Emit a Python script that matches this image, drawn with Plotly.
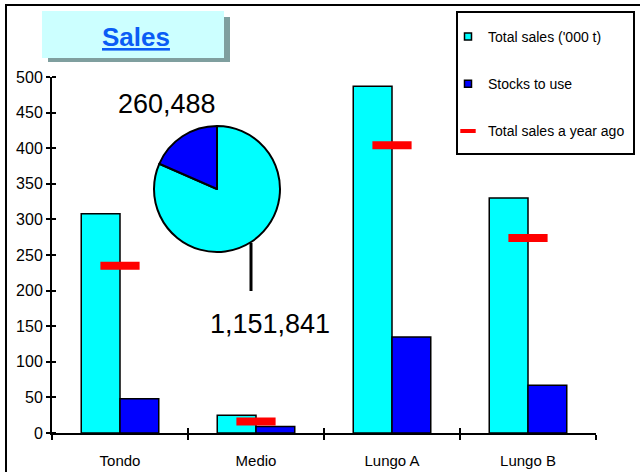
import plotly.graph_objects as go

categories = ["Tondo", "Medio", "Lungo A", "Lungo B"]
total_sales = [308, 25, 487, 330]
stocks_to_use = [48, 9, 135, 67]
sales_year_ago = [235, 16, 404, 274]
pie_labels = ["Other", "Stocks"]
pie_values = [1151841, 260488]
y_ticks = [0, 50, 100, 150, 200, 250, 300, 350, 400, 450, 500]
series_names = ["Total sales ('000 t)", "Stocks to use", "Total sales a year ago"]

W, H = 640, 472
L, R, T, B = 52, 44, 77, 39
PW, PH = W - L - R, H - T - B

def px(x):
    return (x - L) / PW

def py(y):
    return (H - B - y) / PH

font = "Liberation Sans, Arial, sans-serif"
CYAN, BLUE, RED = "#00ffff", "#0000ff", "#ff0000"

fig = go.Figure()
fig.add_trace(go.Bar(x=categories, y=total_sales, name=series_names[0],
                     marker=dict(color=CYAN, line=dict(color="black", width=1.5)),
                     showlegend=False))
fig.add_trace(go.Bar(x=categories, y=stocks_to_use, name=series_names[1],
                     marker=dict(color=BLUE, line=dict(color="black", width=1.5)),
                     showlegend=False))
fig.add_trace(go.Scatter(x=categories, y=sales_year_ago, name=series_names[2],
                         mode="markers",
                         marker=dict(symbol="line-ew", size=28, color=RED,
                                     line=dict(color=RED, width=8)),
                         showlegend=False))
# invisible overlay axis for inward x ticks
fig.add_trace(go.Scatter(x=categories, y=[None]*4, xaxis="x2", showlegend=False,
                         hoverinfo="skip"))

# legend entries (small symbols like the original)
fig.add_trace(go.Scatter(x=[None], y=[None], mode="markers", name=series_names[0],
                         marker=dict(symbol="square", size=7, color=CYAN,
                                     line=dict(color="black", width=1.5)),
                         legendgroup="a"))
fig.add_trace(go.Scatter(x=[None], y=[None], mode="markers", name=series_names[1],
                         marker=dict(symbol="square", size=7, color=BLUE,
                                     line=dict(color="black", width=1.5)),
                         legendgroup="b"))
fig.add_trace(go.Scatter(x=[None], y=[None], mode="markers", name=series_names[2],
                         marker=dict(symbol="line-ew", size=11, color=RED,
                                     line=dict(color=RED, width=4)),
                         legendgroup="c"))

fig.add_trace(go.Pie(labels=pie_labels, values=pie_values, sort=False,
                     direction="clockwise", rotation=0,
                     marker=dict(colors=[CYAN, BLUE], line=dict(color="black", width=2)),
                     textinfo="none", showlegend=False, hoverinfo="skip",
                     domain=dict(x=[px(154), px(280)], y=[py(252), py(126)])))

fig.update_layout(
    width=W, height=H,
    margin=dict(l=L, r=R, t=T, b=B, autoexpand=False),
    paper_bgcolor="white", plot_bgcolor="white",
    barmode="group", bargap=0.43, bargroupgap=0,
    font=dict(family=font, color="black", size=14),
    xaxis=dict(type="category", showgrid=False, showline=True, linecolor="black", linewidth=2,
               ticks="outside", tickson="boundaries", ticklen=5, tickwidth=2, tickcolor="black",
               tickfont=dict(size=15), range=[-0.5, 3.5], ticklabelstandoff=13),
    xaxis2=dict(type="category", overlaying="x", matches="x", showgrid=False, showline=False,
                ticks="inside", tickson="boundaries", ticklen=5, tickwidth=2, tickcolor="black",
                showticklabels=False, side="bottom", anchor="y"),
    yaxis=dict(range=[0, 500], tickvals=y_ticks, showgrid=False, showline=True,
               linecolor="black", linewidth=2, ticks="outside", ticklen=4, tickwidth=2,
               tickcolor="black", tickfont=dict(size=16), zeroline=False,
               minor=dict(tickvals=y_ticks, ticks="inside", ticklen=4, tickwidth=2, tickcolor="black")),
    showlegend=True,
    legend=dict(x=px(448), y=py(21), xanchor="left", yanchor="top",
                borderwidth=0, bgcolor="rgba(0,0,0,0)",
                font=dict(size=14), tracegroupgap=26, traceorder="grouped"),
)

shapes = [
    # outer frame (left/top)
    dict(type="line", xref="paper", yref="paper", x0=px(6), x1=px(6), y0=py(5), y1=py(480),
         line=dict(color="black", width=2)),
    dict(type="line", xref="paper", yref="paper", x0=px(5), x1=px(660), y0=py(5), y1=py(5),
         line=dict(color="black", width=2)),
    # title shadow + box
    dict(type="rect", xref="paper", yref="paper", x0=px(48), x1=px(230), y0=py(62), y1=py(17),
         fillcolor="#7f9f9f", line=dict(width=0), layer="below"),
    dict(type="rect", xref="paper", yref="paper", x0=px(42), x1=px(224), y0=py(58), y1=py(11),
         fillcolor="#ccffff", line=dict(width=0), layer="below"),
    # legend frame
    dict(type="rect", xref="paper", yref="paper", x0=px(457), x1=px(634), y0=py(154), y1=py(12),
         line=dict(color="black", width=2)),
    # pie leader line
    dict(type="line", xref="paper", yref="paper", x0=px(251), x1=px(251), y0=py(243), y1=py(291),
         line=dict(color="black", width=3)),
]
fig.update_layout(shapes=shapes)

ann = dict(xref="paper", yref="paper", showarrow=False, xanchor="center", yanchor="middle")
fig.add_annotation(x=px(136), y=py(37), text="<b><u>Sales</u></b>",
                   font=dict(size=26, color="#0a5cf5", family=font), **ann)
fig.add_annotation(x=px(167), y=py(104), text=f"{pie_values[1]:,}",
                   font=dict(size=27, color="black", family=font), **ann)
fig.add_annotation(x=px(270), y=py(324), text=f"{pie_values[0]:,}",
                   font=dict(size=27, color="black", family=font), **ann)

fig.write_html("out.html", config={"displayModeBar": False},
               post_script="document.body.style.margin='0';")
